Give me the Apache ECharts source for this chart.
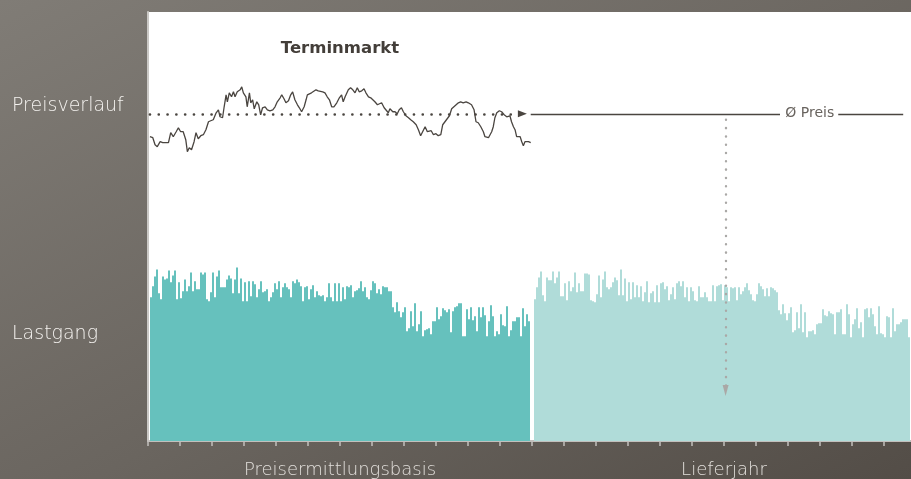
<!DOCTYPE html>
<html>
<head>
<meta charset="utf-8">
<script src="https://cdn.jsdelivr.net/npm/echarts@6/dist/echarts.min.js"></script>
<style>
  html, body { margin: 0; padding: 0; overflow: hidden; }
  body { background: linear-gradient(to bottom right, #807c76 0%, #6a655f 55%, #534d47 100%); }
  /* plot runs a few pixels past the right edge of the window, as in the original */
  #chart { width: 916px; height: 479px; }
</style>
</head>
<body>
<div id="chart"></div>
<script>
// time axis in months: 0-12 = price basis year, 12-24 = delivery year
const periodLabels = ["Preisermittlungsbasis", "Lieferjahr"];
const rowLabels = ["Preisverlauf", "Lastgang"];

// futures price (index units)
const priceMonths = [
  0.06, 0.15, 0.22, 0.29, 0.38, 0.46, 0.53, 0.64, 0.71, 0.79,
  0.88, 0.95, 1.02, 1.10, 1.18, 1.23, 1.29, 1.36, 1.44, 1.50,
  1.57, 1.65, 1.73, 1.81, 1.89, 1.96, 2.04, 2.13, 2.20, 2.25,
  2.30, 2.33, 2.38, 2.44, 2.48, 2.54, 2.61, 2.67, 2.72, 2.79,
  2.88, 2.93, 2.98, 3.06, 3.10, 3.17, 3.21, 3.27, 3.32, 3.40,
  3.46, 3.52, 3.58, 3.66, 3.73, 3.81, 3.90, 3.97, 4.04, 4.13,
  4.18, 4.25, 4.31, 4.39, 4.46, 4.52, 4.59, 4.67, 4.73, 4.80,
  4.88, 4.94, 4.98, 5.04, 5.11, 5.17, 5.25, 5.32, 5.38, 5.46,
  5.53, 5.60, 5.67, 5.74, 5.81, 5.90, 5.98, 6.05, 6.10, 6.16,
  6.21, 6.26, 6.33, 6.40, 6.47, 6.54, 6.60, 6.68, 6.75, 6.81,
  6.89, 6.96, 7.02, 7.09, 7.17, 7.23, 7.30, 7.38, 7.44, 7.51,
  7.56, 7.65, 7.72, 7.79, 7.85, 7.92, 7.98, 8.06, 8.14, 8.21,
  8.29, 8.38, 8.45, 8.52, 8.58, 8.66, 8.73, 8.79, 8.85, 8.92,
  9.00, 9.07, 9.15, 9.21, 9.28, 9.33, 9.42, 9.49, 9.56, 9.63,
  9.70, 9.77, 9.85, 9.94, 10.01, 10.11, 10.19, 10.25, 10.32, 10.40,
  10.48, 10.53, 10.58, 10.64, 10.69, 10.74, 10.79, 10.84, 10.90, 10.98,
  11.05, 11.13, 11.21, 11.26, 11.31, 11.36, 11.42, 11.47, 11.52, 11.57,
  11.63, 11.68, 11.73, 11.78, 11.83, 11.89, 11.96
];
const priceValues = [
  305, 304, 297, 295, 300, 299, 299, 299, 309, 305,
  310, 314, 310, 310, 302, 290, 294, 292, 300, 309,
  303, 306, 307, 312, 320, 321, 322, 329, 332, 325,
  327, 324, 335, 347, 340, 349, 345, 350, 345, 350,
  352, 355, 349, 345, 335, 349, 339, 342, 333, 340,
  337, 327, 334, 335, 332, 331, 332, 335, 340, 344,
  347, 343, 339, 341, 347, 350, 342, 337, 334, 330,
  335, 342, 347, 345, 349, 350, 352, 351, 353, 350,
  349, 345, 342, 335, 335, 339, 344, 347, 340, 345,
  345, 352, 354, 352, 349, 354, 350, 351, 353, 349,
  345, 344, 345, 340, 337, 335, 339, 334, 332, 329,
  333, 330, 330, 328, 332, 334, 330, 326, 324, 322,
  320, 317, 312, 306, 305, 315, 310, 308, 311, 307,
  308, 306, 307, 317, 320, 322, 326, 333, 335, 337,
  339, 340, 339, 340, 339, 337, 332, 320, 319, 315,
  310, 305, 303, 304, 302, 310, 315, 324, 329, 331,
  330, 327, 325, 324, 326, 320, 315, 312, 305, 303,
  305, 300, 296, 300, 299, 300, 299
];
const avgPrice = 328;

// load profile (same index units), one bar per ~2 days
const basisLoad = [
  144, 155, 165, 172, 148, 142, 165, 162, 163, 171,
  159, 166, 171, 142, 159, 143, 150, 162, 150, 155,
  169, 150, 160, 152, 152, 169, 167, 169, 142, 140,
  149, 169, 144, 165, 171, 154, 154, 154, 162, 166,
  163, 148, 162, 174, 148, 163, 140, 159, 140, 160,
  145, 160, 157, 144, 152, 160, 149, 150, 152, 140,
  144, 149, 158, 152, 160, 144, 154, 158, 154, 152,
  144, 160, 158, 162, 159, 155, 140, 154, 155, 142,
  152, 156, 144, 150, 146, 145, 146, 140, 144, 158,
  144, 140, 158, 140, 158, 140, 154, 142, 155, 154,
  156, 144, 150, 151, 153, 160, 150, 154, 144, 142,
  151, 160, 158, 148, 152, 147, 155, 154, 154, 150,
  150, 134, 129, 139, 130, 124, 129, 134, 110, 113,
  130, 115, 138, 110, 117, 130, 105, 111, 112, 113,
  107, 120, 120, 134, 122, 125, 133, 131, 129, 132,
  109, 130, 134, 135, 138, 138, 105, 105, 132, 122,
  134, 121, 125, 110, 134, 124, 134, 126, 105, 120,
  136, 125, 105, 110, 107, 127, 116, 115, 135, 105,
  111, 120, 120, 124, 124, 105, 133, 115, 127, 120
];
const supplyLoad = [
  142, 154, 164, 170, 146, 140, 164, 161, 161, 170,
  158, 164, 170, 145, 145, 158, 141, 160, 150, 154,
  169, 149, 158, 150, 150, 168, 168, 167, 141, 140,
  139, 147, 166, 144, 162, 170, 154, 152, 154, 159,
  164, 161, 146, 172, 146, 163, 140, 159, 142, 159,
  144, 156, 144, 155, 140, 149, 160, 139, 148, 150,
  139, 156, 139, 158, 159, 152, 155, 141, 147, 154,
  142, 158, 160, 155, 160, 144, 154, 140, 154, 150,
  141, 140, 155, 144, 144, 149, 144, 140, 140, 156,
  140, 155, 156, 157, 141, 156, 154, 140, 154, 153,
  154, 141, 154, 147, 150, 154, 158, 151, 147, 141,
  140, 147, 158, 155, 152, 145, 153, 145, 154, 153,
  151, 149, 131, 127, 137, 128, 121, 128, 134, 109,
  111, 129, 113, 137, 109, 129, 104, 110, 110, 111,
  107, 117, 118, 118, 132, 126, 125, 130, 128, 127,
  107, 129, 129, 132, 107, 107, 137, 127, 104, 117,
  122, 133, 113, 119, 104, 132, 133, 124, 133, 127,
  115, 107, 135, 108, 107, 104, 125, 124, 104, 133,
  110, 117, 117, 119, 122, 122, 122, 104
];

const BANDS = 384;          // 192 bar slots per year
const SUPPLY_START = 193;   // first slot of the delivery year (small gap before)

const chart = echarts.init(document.getElementById("chart"));

const bandIndex = Array.from({ length: BANDS }, (_, i) => i);
const basisData = ["-"].concat(basisLoad);
const supplyData = new Array(SUPPLY_START).fill("-").concat(supplyLoad);
const priceData = priceMonths.map((t, i) => [t, priceValues[i]]);

const darkLine = "#4a4540";
const font = "'DejaVu Sans', 'Noto Sans', sans-serif";

const option = {
  animation: false,
  backgroundColor: "transparent",
  grid: { left: 148, top: 12, width: 768, height: 430, show: true, backgroundColor: "#ffffff", borderWidth: 0 },
  xAxis: [
    {
      type: "value", min: 0, max: 24, interval: 1, position: "bottom",
      axisLine: { show: true, lineStyle: { color: "#c2c0bd", width: 2 } },
      axisTick: { show: true, length: 5, lineStyle: { color: "#c2c0bd", width: 1.5 } },
      axisLabel: { show: false },
      splitLine: { show: false },
    },
    { type: "category", data: bandIndex, show: false, position: "bottom" },
    {
      type: "category", data: periodLabels, position: "bottom",
      axisLine: { show: false }, axisTick: { show: false },
      axisLabel: { color: "#e2dfdb", fontSize: 18, fontWeight: 200, fontFamily: font, margin: 20 },
    },
  ],
  yAxis: [
    {
      type: "value", min: 0, max: 430, position: "left",
      axisLine: { show: true, lineStyle: { color: "#cac8c5", width: 2 } },
      axisTick: { show: false }, axisLabel: { show: false }, splitLine: { show: false },
    },
    { type: "value", min: 0, max: 430, show: false },
  ],
  graphic: [
    { type: "text", x: 12, y: 106, style: { text: rowLabels[0], fill: "#f4f2ef", font: "200 19px " + font, verticalAlign: "middle" } },
    { type: "text", x: 12, y: 334, style: { text: rowLabels[1], fill: "#f4f2ef", font: "200 19px " + font, verticalAlign: "middle" } },
    { type: "text", x: 340, y: 49, style: { text: "Terminmarkt", fill: "#433e39", font: "bold 16.5px " + font, align: "center", verticalAlign: "middle" } },
  ],
  series: [
    {
      type: "bar", xAxisIndex: 1, yAxisIndex: 1, data: basisData,
      itemStyle: { color: "#66c1bd" }, barGap: "-100%", barCategoryGap: "0%", silent: true,
    },
    {
      type: "bar", xAxisIndex: 1, yAxisIndex: 1, data: supplyData,
      itemStyle: { color: "#b0dcd9" }, barGap: "-100%", barCategoryGap: "0%", silent: true,
    },
    {
      type: "line", xAxisIndex: 0, yAxisIndex: 0, data: priceData, z: 5,
      showSymbol: false, silent: true,
      lineStyle: { color: darkLine, width: 1.3 },
      markLine: {
        silent: true, animation: false, symbol: "none",
        label: { show: false },
        data: [
          [
            { coord: [0.06, avgPrice], symbol: "none", lineStyle: { color: darkLine, width: 2.6, type: [0.1, 8.7], cap: "round" } },
            { coord: [11.7, avgPrice], symbol: "triangle", symbolSize: [7, 9], itemStyle: { color: darkLine } },
          ],
          [
            { coord: [11.96, avgPrice], symbol: "none", lineStyle: { color: darkLine, width: 1.3, type: "solid" } },
            { coord: [19.75, avgPrice], symbol: "none" },
          ],
          [
            { coord: [21.57, avgPrice], symbol: "none", lineStyle: { color: darkLine, width: 1.3, type: "solid" },
              label: { show: true, position: "start", distance: 4, formatter: "Ø Preis", color: "#68635e", fontSize: 14, fontFamily: font } },
            { coord: [23.6, avgPrice], symbol: "none" },
          ],
          [
            { coord: [18.05, 322], symbol: "none", lineStyle: { color: "#aaa8a6", width: 2.4, type: [0.1, 8.2], cap: "round" } },
            { coord: [18.05, 50.5], symbol: "triangle", symbolSize: [6, 11], itemStyle: { color: "#aaa8a6" } },
          ],
        ],
      },
    },
  ],
};

chart.setOption(option);
</script>
</body>
</html>
